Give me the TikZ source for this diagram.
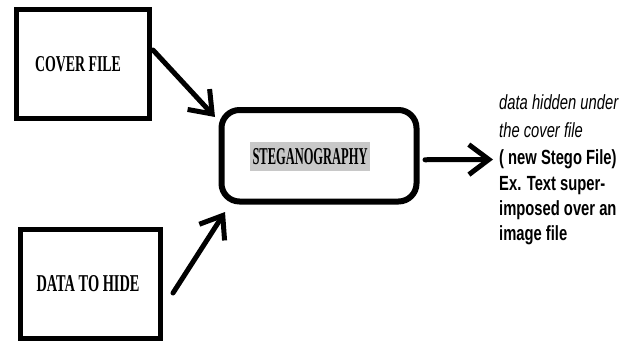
\documentclass[tikz,border=0pt]{standalone}
\usepackage{fontspec}
\setmainfont{Liberation Serif}
\newfontfamily\arialn[FakeStretch=0.72]{Liberation Sans}
\usetikzlibrary{arrows.meta}
\definecolor{hl}{RGB}{200,200,200}
\begin{document}
\begin{tikzpicture}[x=1pt,y=-1pt,
  box/.style={draw, line width=5pt, inner sep=0pt},
  arr/.style={line width=5pt, line cap=round, -{Straight Barb[length=20pt,width=30pt]}},
  desc/.style={anchor=base west, inner sep=0pt, font=\arialn\fontsize{20.5}{26}\selectfont}]
\useasboundingbox (0,0) rectangle (636,341);
\node[box, minimum width=133pt, minimum height=109pt] (cover) at (83,64)
  {\resizebox{86pt}{15pt}{\bfseries COVER FILE}\hspace*{10pt}};
\node[box, minimum width=140pt, minimum height=109pt] (data) at (90.5,284)
  {\resizebox{103pt}{16pt}{\bfseries DATA TO HIDE}\hspace*{5pt}};
\node[draw, line width=6pt, rounded corners=18pt, minimum width=195pt, minimum height=91.5pt, inner sep=0pt] (steg) at (319,155.75) {};
\node[fill=hl, minimum width=120pt, minimum height=29pt, inner sep=0pt] (stegtxt) at (310,156.5)
  {\resizebox{115pt}{16pt}{\bfseries STEGANOGRAPHY}};
\node[desc] (out1) at (499,109) {\itshape data hidden under};
\node[desc] (out2) at (499,137) {\itshape the cover file};
\node[desc] (out3) at (499,164) {\bfseries ( new Stego File)};
\node[desc] (out4) at (499,190) {\bfseries Ex. Text super-};
\node[desc] (out5) at (499,215) {\bfseries imposed over an};
\node[desc] (out6) at (499,240) {\bfseries image file};
\draw[arr] ([shift={(1,43)}]cover.north east) -- ([shift={(-3.5,10)}]steg.north west);
\draw[arr] ([shift={(10,9)}]data.east) -- ([shift={(6.5,7.5)}]steg.south west);
\draw[arr] ([shift={(5.5,4)}]steg.east) -- ([shift={(-6,-4.5)}]out3.base west);
\end{tikzpicture}
\end{document}
